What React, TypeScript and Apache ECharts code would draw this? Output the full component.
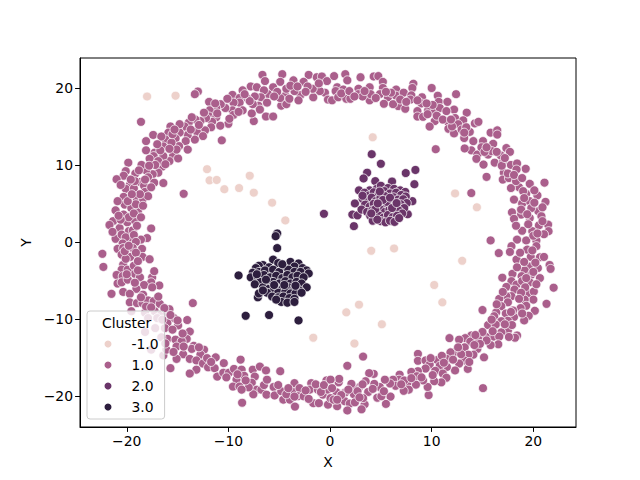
import React, { useEffect, useRef } from "react";
import * as echarts from "echarts";

const clusterNames = ["-1.0", "1.0", "2.0", "3.0"];
const clusterColors = ["#edd1cb", "#aa5f8c", "#6a3569", "#2d1e3e"];
const xTicks = [-20, -10, 0, 10, 20];
const yTicks = [-20, -10, 0, 10, 20];

const noise = [
  [-18, 18.9], [-15.2, 19], [-12.1, 9.45], [-11.85, 8], [-11.15, 8.05], [-10.4, 6.85], [-8.95, 7], [-7.9, 8.6], [-7.5, 6.4],
  [-5.7, 5.1], [-4.4, 2.8], [4.2, 13.6], [12.3, 6.3], [14.45, 4.5], [-1.65, -12.45], [4.05, -1.15], [6.3, -0.85], [13, -2.45],
  [10.25, -5.6], [11.05, -7.85], [2.85, -8.15], [1.6, -9.15], [5.1, -10.7], [2.4, -13.2],
];

const ringUpperLeft = [
  [-6.65, 21.7], [-4.7, 21.8], [-2.1, 21.7], [-6.4, 20.9], [-4.9, 20.8], [-3.6, 21], [-7.8, 20.2], [-7.2, 20.1], [-8.6, 19.7], [-9.6, 19.1],
  [-13, 19.55], [-13.3, 19.2], [-11.9, 18.2], [-18.6, 15.6], [-10.65, 13.2], [-6.3, 16.3], [-5.6, 16.3], [-7.5, 15.7], [-7.7, 16.7],
  [-1.65, 18.8], [-0.5, 19.4], [-0.2, 18.5], [-1, 19.6], [-1.7, 19.9], [-1.3, 21.4], [-0.8, 21.5], [-0.3, 20.9], [-1.1, 20.6], [-2.6, 20.8],
  [-2.9, 19.1], [-3.5, 19.6], [-4.4, 19], [-4.3, 19.9], [-4.8, 17.7], [-4.3, 17.9], [-4.9, 18.7], [-5.6, 20.1], [-6.1, 19.2], [-6.5, 19.7],
  [-6.8, 18.8], [-7.05, 17.7], [-7.4, 18.9], [-8.1, 18.6], [-7.6, 17.9], [-8.9, 18.7], [-8.9, 18.1], [-8.6, 17.1], [-9.5, 18.1], [-9.6, 17.1],
  [-9.5, 16.5], [-10.3, 17.4], [-10.75, 17.9], [-11.2, 17.4], [-11.85, 17.1], [-11.9, 16.3], [-11.2, 16.2], [-11.6, 15.6], [-12.2, 16.1],
  [-12.75, 15.7], [-13.25, 15.9], [-13.9, 15.5], [-14.3, 15], [-14.95, 14.7], [-15.7, 15], [-15.9, 14.2], [-10, 15.35], [-10.8, 15.1],
  [-11.7, 14.9], [-12.3, 14.5], [-13.1, 14.3], [-12.5, 13.75], [-13.3, 13.3], [-14, 13.9], [-14.2, 13.1], [-14.8, 14.2], [-15.2, 13.45],
  [-16.2, 13.3], [-17.4, 13.9], [-18.1, 13.1], [-18.1, 11.9], [-16.4, 12.4], [-14.85, 12.45], [-14, 12], [-17.25, 11.6], [-15.45, 11.15],
  [-14.95, 10.85], [-15.8, 10.5], [-16.4, 11.15], [-17.35, 11.15], [-17.75, 10.8], [-16.5, 9.8], [-16.9, 9], [-17.45, 8.8], [-18.1, 9.3],
  [-18.55, 10], [-19.85, 10.3], [-20.1, 9.2], [-20.3, 8.6], [-21, 8.15], [-19.15, 8.9], [-17.9, 8.4], [-17.3, 7.7], [-16.4, 7.65], [-18.7, 7.8],
  [-19.7, 7.4], [-20.1, 6.9], [-19.3, 6.95], [-18.3, 7.3], [-18.2, 6.5], [-20.3, 5.85], [-19, 5.5], [-18.4, 5.6], [-17.9, 5.95], [-20.2, 4.85],
  [-19.55, 4.4], [-18.9, 4], [-20.3, 3.55], [-21.1, 4.1], [-21.35, 2.7], [-21.7, 2.2], [-19.95, 2.55], [-19.2, 2.8], [-20.7, 1.8], [-19.8, 1.4],
  [-19.4, 1.5], [-17.6, 1.75], [-18, 0.5], [-18.6, 0.3], [-21.1, 0.4], [-19.8, 0.2], [-20.5, 0.95], [-14.4, 6.25],
  [-19.1, 4.9], [-19.9, 5.3], [-18.7, 6.2], [-19.5, 6.2], [-19.8, 3.2], [-20.6, 2.9], [-20.1, 0.6], [-19.2, 7.9], [-15.1, 12], [-15.6, 12.9],
  [-16.9, 10.5], [-17.2, 10], [-16.7, 11.9], [-13.7, 14.6], [-12.9, 15.2], [-11.1, 16.7], [-9, 16.9], [-7.9, 18.3], [-5.2, 19.5], [-3.9, 20.3],
  [-2.2, 20.2], [-15.5, 14], [-18.2, 8.1], [-19.3, 3.7], [-20.8, 3.4], [-19.3, 0.9],
  [-2.4, 19.5], [-3.2, 20.2], [-5.5, 18.9], [-6.2, 18.1], [-8.4, 19.2], [-10.1, 18.6], [-11.3, 18], [-12.4, 16.8], [-13.6, 16.2], [-14.8, 15.3],
  [-15.3, 14.6], [-16.6, 13.7], [-15.8, 12.1], [-17, 12.7], [-17.8, 9.9], [-16.2, 10.1], [-18.8, 9.3], [-19.6, 8.1], [-20.6, 7.4], [-17.6, 7.1],
  [-20.9, 5.3], [-18.4, 4.7], [-18.6, 3.2], [-21.4, 1.3], [-19, 2.1], [-20.4, -0.2], [-19.1, 0], [-9.9, 16], [-6.9, 17.2], [-4, 18.6], [-3.1, 18.4],
];

const ringUpperRight = [
  [0.4, 21.55], [1.5, 21.8], [3, 21.4], [4.3, 21.5], [4.75, 21.55], [1.7, 21], [5.2, 20.8], [8.2, 20.55], [10, 20], [12.4, 19.2], [10.6, 19],
  [0.7, 20.1], [1.3, 19.8], [2.8, 19.9], [3.9, 20.1], [5.2, 20], [6.5, 19.8], [8.1, 20], [0.55, 19.6], [0.2, 18.4], [0.8, 18.8], [1.6, 18.6],
  [2, 18.6], [2.8, 19.2], [3.9, 18.4], [4, 19.2], [4.9, 19.2], [5.7, 18.8], [5.3, 17.95], [6.5, 19], [7.25, 19.4], [8, 19.05], [7.9, 18.5],
  [9.05, 18.8], [9, 18], [6.7, 17.65], [7.4, 17.3], [6.2, 17.9], [10.7, 18.2], [11.55, 18.2], [12.2, 17.2], [13.45, 16.8], [8.6, 17], [9.65, 17.1],
  [10.3, 16.9], [10.8, 17.4], [11.45, 17], [8.6, 16.3], [9.15, 16.25], [10.3, 15.7], [9.8, 15], [11.6, 15.6], [12.3, 16.1], [13.1, 15.8],
  [11.65, 14.7], [12.2, 14.1], [12.6, 15.3], [12.95, 14.6], [14.25, 15.4], [14.6, 15.6], [13.75, 14.3], [13.2, 13.5], [13.9, 11.9], [13.25, 12.15],
  [10.4, 12.05], [14.5, 11.35], [15.05, 13.1], [15.8, 14.2], [16.45, 14.5], [16.45, 13.95], [16.05, 12.75], [15.55, 11.35], [15.1, 10.05], [14.4, 10.8],
  [16.2, 10.3], [17, 10.3], [16.8, 11.25], [17.35, 12.2], [17.7, 11.7], [15.4, 8.45], [17.8, 10], [18.4, 10.2], [19.25, 9.5], [17.1, 9], [17, 8.1],
  [17.6, 8.3], [18.35, 9.4], [18.6, 7.1], [17.8, 7], [19.65, 7.55], [21.1, 7.7], [19.3, 6.25], [20.4, 6.05], [18.1, 5.5], [18.9, 5], [19.65, 5.3],
  [21.2, 5.2], [20.5, 4], [18.8, 3.55], [17.9, 3.85], [18.1, 3], [19.65, 3.1], [20.8, 3.35], [21.45, 2.25], [20.55, 2.15], [18.9, 1.45], [19.9, 1.4],
  [21.5, 1.4], [21.05, 1], [18.4, 0.3], [19.3, 0.2], [20.3, 0.2], [15.8, 0.2], [13.9, 6.35],
  [15.9, 11.8], [14.1, 13.1], [13.4, 14.9], [10.1, 17.8], [3.2, 18.9], [1.1, 19.3], [6, 19.4], [17.5, 8.9], [18.3, 7.9], [19.8, 4.4], [20.1, 5.1],
  [20.9, 2.7], [19.5, 2.3], [20, 0.8], [18.8, 4.2], [16.4, 11.7], [12, 15], [9.6, 16.6],
  [1.9, 19.6], [2.4, 18.9], [3.4, 19.6], [4.5, 18.7], [5.5, 19.5], [6.9, 18.5], [7.5, 18.2], [8.6, 18.4], [9.5, 18], [10.5, 16.4], [11.1, 15.9],
  [11.9, 15.9], [13.2, 14.2], [14.9, 12.3], [15.2, 11.7], [16.9, 9.9], [18.1, 8.7], [18.9, 8.3], [19, 6.6], [20.1, 6.7], [19.1, 5.7], [20.9, 4.5],
  [19.4, 3.6], [18.3, 2.1], [20.4, 1.1], [17.2, 10.9], [15.4, 12.3],
];

const ringLowerLeft = [
  [-22.4, -1.55], [-22.3, -3.25], [-20.9, -0.9], [-20.35, -0.8], [-19.4, -0.8], [-18.5, -0.9], [-20.5, -1.65], [-19.65, -1.95], [-18.45, -1.95],
  [-17.75, -2.25], [-20.35, -2.95], [-20.5, -3.6], [-19.9, -3.6], [-19.3, -3.1], [-19.2, -4.15], [-21, -4.3], [-20.4, -4.45], [-18.7, -4.6],
  [-17.5, -4.6], [-17.6, -5.25], [-20.9, -5.4], [-20.5, -5.25], [-18.3, -5.6], [-16.8, -5.65], [-17.5, -5.9], [-19.05, -6.1], [-20.35, -6.5],
  [-19.7, -6.75], [-21.5, -6.75], [-18.4, -6.85], [-19.7, -7.85], [-19, -7.95], [-18.45, -7.95], [-17.9, -7.6], [-17.35, -7.7], [-16.75, -8.05],
  [-13.5, -7.95], [-15.8, -8.75], [-19.55, -9], [-18.2, -9.2], [-17.25, -9], [-16.6, -9.45], [-15.35, -9.9], [-14.05, -10.15], [-16, -10.55],
  [-14.95, -10.85], [-18.2, -11.7], [-16.25, -11.2], [-13.8, -11.65], [-16, -12.6], [-15.2, -12.7], [-14.1, -12.6], [-14.6, -12.9], [-17.6, -14],
  [-16.4, -14.75], [-16.1, -14], [-15.1, -13.6], [-14.45, -14.6], [-15.1, -15.2], [-13.4, -13.5], [-12.4, -14], [-12.75, -14.65], [-13.8, -15.2],
  [-13.15, -15.4], [-12.5, -15.8], [-13.15, -16.6], [-15.7, -16.4], [-13.8, -17.1], [-12, -16.3], [-11.25, -15], [-10.45, -15.75], [-11.35, -16.4],
  [-11.1, -17.5], [-10.5, -17], [-9.95, -17], [-9.45, -16.5], [-8.8, -15.3], [-8.7, -16.6], [-9.2, -17.9], [-9.55, -18.8], [-8.9, -18.8], [-8.45, -17.4],
  [-7.6, -16.6], [-6.9, -16.2], [-6.3, -16.7], [-4.9, -16.8], [-7.4, -17.5], [-7.7, -18.3], [-7.2, -19.2], [-7.55, -19.8], [-8.65, -20.9], [-6.75, -19.2],
  [-6.25, -19.85], [-5.55, -18.85], [-5.45, -19.95], [-4.8, -19.4], [-4.6, -20.5], [-3.95, -20.5], [-3.45, -21.4], [-3.7, -19.4], [-3.5, -18.35],
  [-3, -19], [-3.15, -20.05], [-2.6, -20.05], [-1.85, -18.35], [-2, -19.2], [-1.65, -20.95], [-1.2, -19.2], [-1.1, -20.95], [-0.7, -19.85],
  [-0.35, -18], [-0.2, -19.2], [-0.2, -21.15],
  [-20.1, -2.2], [-19.1, -1.4], [-18.9, -2.5], [-19.9, -4.9], [-19.2, -5.3], [-18.1, -8.4], [-17.6, -8.5], [-17, -9.9], [-16.5, -10.1], [-15.5, -11.4],
  [-14.5, -11.9], [-13.6, -13.9], [-12.1, -15.1], [-9.1, -17.2], [-8, -18.9], [-6.5, -18.6], [-4.3, -19.8], [-2.4, -19.3], [-0.9, -19.5], [-15.4, -14.3],
  [-20.2, -1.2], [-19.8, -0.5], [-18.9, -3.7], [-20, -4.2], [-18.6, -7.2], [-16.9, -7.1], [-16.3, -8.6], [-17.9, -9.9], [-15.7, -9.5], [-15, -10.2],
  [-17.2, -11.2], [-16.6, -12.4], [-14.4, -13.6], [-12.9, -13.7], [-11.7, -15.6], [-10.2, -17.6], [-8.3, -18], [-8.7, -19.2], [-6.2, -17.9], [-5.1, -18.6],
  [-4.1, -19], [-3.5, -20.1], [-2.1, -20.4], [-1.4, -18.5], [-0.6, -18.6], [-17.3, -3.8], [-16.2, -13.2],
];

const ringLowerRight = [
  [16.6, -1.45], [17.85, -0.55], [17.7, -1.3], [18.35, -2.3], [19.4, -1], [20.3, -0.55], [19.75, -1.95], [20.65, -2], [21.05, -1.95], [21.6, -3],
  [21.7, -3.5], [19.65, -3.2], [20.45, -3.4], [19.15, -3.7], [18.85, -4.45], [17.95, -4.15], [16.95, -4.65], [19.8, -4.25], [20.65, -4.7], [19.65, -5.25],
  [22, -5.95], [17.85, -5.1], [17.35, -5.85], [18.35, -5.55], [18.15, -6.2], [19.5, -6.65], [20.05, -6.45], [20, -7.5], [19.15, -7.5], [17.85, -7.05],
  [17.35, -7.05], [16.65, -7.4], [17.5, -7.85], [21.3, -8.05], [19.3, -8.3], [18.75, -8.6], [20.15, -8.95], [19.55, -9.6], [19.1, -10.2], [16.85, -8.35],
  [16.35, -9.15], [17.3, -9.3], [18.1, -9.75], [15, -8.85], [16.15, -9.65], [17.5, -10.25], [16.85, -10.3], [15.55, -10.8], [16.3, -10.75], [17.5, -11.5],
  [16.85, -11.75], [18.4, -12.15], [18.2, -12.45], [17.6, -12.35], [16.05, -12.3], [16.65, -12.3], [16.55, -13.3], [15.8, -13.4], [15.3, -12.3],
  [15.4, -12.8], [14.55, -12.5], [13.9, -12.15], [13.3, -12.5], [13.8, -12.95], [12.7, -12.7], [11.75, -12.5], [13.25, -13.7], [14.5, -13.9], [14.75, -13.25],
  [15.15, -15], [14.1, -14.65], [13.6, -14.65], [13.2, -15.4], [12.2, -14.35], [11.85, -14.35], [12.7, -15.8], [13.55, -16.5], [12.3, -16.7], [11.45, -15.2],
  [10.55, -15.35], [11, -14.8], [8.65, -14.55], [8.65, -15.45], [9.4, -15.4], [9.8, -15.95], [9.4, -16.45], [11.5, -16.25], [10.8, -16.1], [10.35, -16.75],
  [11.1, -17.1], [11.45, -17.65], [10.95, -18.25], [10.25, -18.1], [15.05, -19], [9.7, -19.9], [9.6, -18.85], [9.15, -18], [8.65, -16.8], [8, -16.9],
  [8.55, -17.45], [8.45, -18.55], [7.6, -18.35], [7.75, -19.2], [7.25, -19.35], [6.85, -17.25], [6.8, -17.9], [6.2, -17.9], [6.45, -18.7], [5.9, -18.4],
  [5.95, -20.1], [5.5, -21.05], [4.65, -20.25], [5.05, -20.05], [4.9, -18.85], [4.35, -18.45], [4.3, -17.15], [3.85, -17.05], [3.5, -18.1], [3.75, -19.5],
  [3.4, -21.1], [3.1, -21.75], [3.25, -20.3], [2.85, -18.9], [2.25, -18.9], [2.1, -18.45], [2.35, -19.8], [1.5, -19.55], [1.45, -20.7], [1.95, -21],
  [1.7, -21.9], [2.45, -20.85], [0.85, -18.25], [0.9, -17.8], [0.65, -19.55], [0.7, -21.35], [0.05, -20.3], [0.35, -20.5], [0.05, -17.9], [3.25, -14.9],
  [1.7, -16.1],
  [18.9, -5.1], [19.2, -5.9], [18, -8.9], [17.9, -10.8], [17.2, -10.7], [16, -11.6], [14.2, -13.4], [12.9, -14.6], [10.1, -17.3], [9, -17.6], [7.3, -18],
  [5.3, -19.4], [4.2, -19.1], [2.7, -19.4], [1.1, -19.9], [19.9, -1.1], [20, -3.9],
  [18.7, -1.4], [19.1, -2.6], [20.2, -2.7], [18.4, -3.3], [19.3, -4.7], [20.3, -5.5], [18.8, -6.6], [18.6, -7.4], [17, -6.5], [16.4, -8.1], [15.9, -10.1],
  [17.8, -9.1], [18.9, -9.3], [15, -11.7], [14.3, -12.1], [12.6, -13.7], [11.2, -15.7], [9.9, -15.1], [8, -17.7], [7, -18.5], [5.4, -17.9], [3.2, -18.5],
  [2.9, -20.2], [1.8, -19.2], [0.7, -20.5], [0.2, -19], [12.1, -15.3], [13.7, -15.6],
];

const core2 = [
  [4.1, 11.4], [5, 10.15], [8.4, 9.35], [7.45, 8.95], [3.65, 9], [3.3, 8.25], [8.3, 7.5], [6.1, 7.85], [4.45, 7.9], [2.85, 6.7], [8.1, 5.3], [7.65, 3.6],
  [2.45, 5], [2.2, 3.55], [2.35, 2.05], [2.7, 3.45], [-0.6, 3.65],
  [3.9, 6.7], [4.6, 6.9], [5, 7.3], [5.7, 7], [6.3, 6.9], [6.9, 6.7], [7.4, 6.5], [3.4, 6.4], [3.85, 6.05], [4.3, 6.45], [4.8, 6.25], [5.35, 6.6], [5.9, 6.3],
  [6.5, 6.4], [7, 6.1], [7.45, 5.9], [3.2, 5.6], [3.7, 5.4], [4.1, 5.75], [4.5, 5.3], [4.95, 5.7], [5.4, 5.95], [5.75, 5.5], [6.25, 5.8], [6.7, 5.5], [7.2, 5.55],
  [7.55, 5.05], [3.45, 4.85], [3.9, 4.6], [4.3, 4.95], [4.75, 4.55], [5.15, 5], [5.55, 4.7], [6, 4.95], [6.45, 4.6], [6.95, 4.9], [7.3, 4.4], [3.1, 4.2], [3.65, 3.9],
  [4.15, 4.1], [4.6, 3.75], [5, 4.2], [5.4, 3.9], [5.85, 4.2], [6.3, 3.8], [6.75, 4.1], [7.1, 3.7], [3.95, 3.4], [4.4, 3.2], [4.85, 3.4], [5.25, 3.15], [5.7, 3.5],
  [6.15, 3.2], [6.6, 3.4], [4.2, 2.75], [5, 2.7], [5.45, 2.55], [5.9, 2.75], [6.35, 2.6], [4.65, 2.9], [4.9, 6.55], [5.6, 5.2], [6.1, 4.4], [4.45, 4.25], [5.2, 5.45], [3.2, 6], [6.8, 3.1],
  [4.7, 5], [5.9, 5.75], [4.05, 3.7], [6.55, 5.05],
];

const core3 = [
  [-5.2, 1.1], [-5.35, 0.75], [-5.2, -0.8], [-9, -4.35], [-8.3, -9.6], [-6, -9.5], [-3.1, -10.2],
  [-5.6, -2.3], [-5.1, -2.75], [-3.9, -2.6], [-3.1, -2.8], [-6.6, -3], [-7, -3.1], [-7.3, -3.4], [-6, -3.3], [-4.6, -3.2], [-3.5, -3.2],
  [-2.7, -3.4], [-2.3, -3.7], [-7.6, -4], [-7, -3.9], [-6.4, -3.7], [-5.6, -3.6], [-5, -3.9], [-4.1, -3.6], [-3.5, -3.9], [-2.9, -3.9], [-2.1, -4.1],
  [-7.8, -4.6], [-7.1, -4.6], [-6.5, -4.3], [-5.9, -4.6], [-5.3, -4.4], [-4.7, -4.7], [-4.2, -4.3], [-3.7, -4.6], [-3.2, -4.4], [-2.6, -4.6], [-6.9, -5.2],
  [-6.2, -5.4], [-5.6, -5.2], [-5, -5.4], [-4.4, -5.1], [-3.9, -5.4], [-3.3, -5.2], [-2.8, -5.4], [-2.3, -5.9], [-7.4, -5.5], [-6.6, -5.9], [-6, -6.1], [-5.3, -5.9],
  [-4.7, -6.1], [-4.1, -5.9], [-3.5, -6], [-3, -6.3], [-5.7, -6.5], [-5.1, -6.6], [-4.4, -6.5], [-3.9, -6.7], [-3.4, -6.7], [-6.2, -6.6], [-5.7, -7.1], [-5.1, -7.2], [-4.6, -7.1],
  [-4, -7.3], [-3.5, -7.4], [-7.1, -7.2], [-7, -6.7], [-4.8, -7.8], [-4.2, -7.9], [-5.3, -7.5], [-3.5, -7.8], [-7.2, -4.2], [-6.3, -4.9], [-5.5, -5.6], [-4.5, -5.6], [-3.4, -5.7],
  [-4.7, -2.9], [-6.6, -6.3], [-2.8, -6.6],
];

const ringPoints = [...ringUpperLeft, ...ringUpperRight, ...ringLowerLeft, ...ringLowerRight];
const seriesData = [noise, ringPoints, core2, core3];

export default function App() {
  const ref = useRef<HTMLDivElement>(null);

  useEffect(() => {
    const chart = echarts.init(ref.current!, undefined, { renderer: "svg" });
    const font = "DejaVu Sans";
    const axisCommon = {
      type: "value",
      nameLocation: "middle",
      nameTextStyle: { color: "#000", fontFamily: font, fontSize: 13.9 },
      splitLine: { show: false },
      axisLine: { onZero: false, lineStyle: { color: "#000", width: 1 } },
    };
    const ticks = (values: number[]) => ({
      axisTick: { show: true, length: 4.9, customValues: values, lineStyle: { color: "#000", width: 1 } },
      axisLabel: {
        show: true,
        color: "#000",
        fontFamily: font,
        fontSize: 13.9,
        margin: 7,
        customValues: values,
        formatter: (v: number) => String(v).replace("-", "\u2212"),
      },
    });
    chart.setOption({
      animation: false,
      backgroundColor: "#fff",
      grid: { left: 80, right: 64, top: 58, bottom: 53, show: true, borderColor: "#000", borderWidth: 1, backgroundColor: "transparent" },
      xAxis: { ...axisCommon, name: "X", nameGap: 28, min: -24.6, max: 24.2, ...ticks(xTicks) },
      yAxis: { ...axisCommon, name: "Y", nameGap: 35, min: -24.05, max: 23.9, ...ticks(yTicks) },
      legend: {
        orient: "vertical",
        left: 87,
        top: 311,
        icon: "circle",
        itemWidth: 9,
        itemHeight: 9,
        itemGap: 7,
        padding: [26, 6, 5, 15.5],
        backgroundColor: "rgba(255,255,255,0.8)",
        borderColor: "#ccc",
        borderWidth: 1,
        borderRadius: 3,
        data: clusterNames,
        textStyle: { color: "#000", fontFamily: font, fontSize: 13.9, lineHeight: 14, padding: [0, 0, 0, 14] },
      },
      graphic: [
        {
          type: "text",
          left: 102,
          top: 316,
          z: 1000,
          style: { text: "Cluster", fontFamily: font, fontSize: 13.9, fill: "#000" },
        },
      ],
      series: clusterNames.map((name, i) => ({
        name,
        type: "scatter",
        data: seriesData[i],
        symbolSize: 9,
        itemStyle: { color: clusterColors[i], opacity: 1, borderColor: "#fff", borderWidth: 0.75 },
      })),
    });
    return () => chart.dispose();
  }, []);

  return <div ref={ref} style={{ position: "fixed", left: 0, top: 0, width: 640, height: 480 }} />;
}
